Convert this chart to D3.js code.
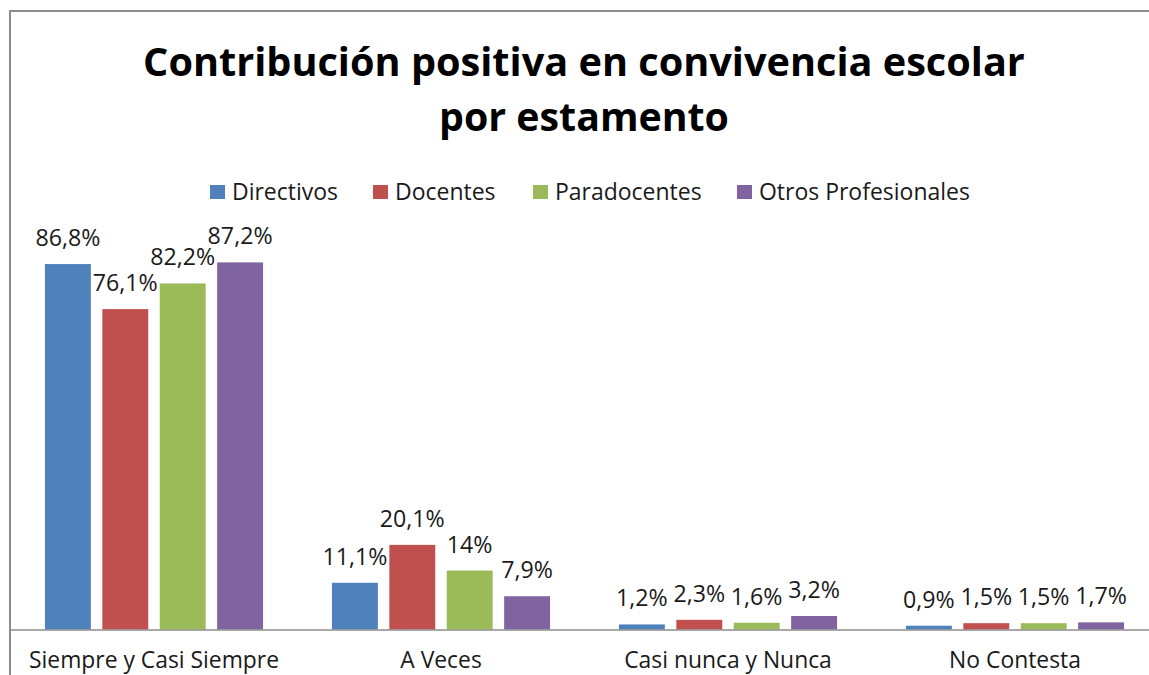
<!DOCTYPE html>
<html><head><meta charset="utf-8">
<script src="https://cdn.jsdelivr.net/npm/d3@7"></script>
<style>
html,body{margin:0;padding:0;background:#fff;}
svg{display:block;}
text{font-family:"Open Sans",sans-serif;}
</style></head>
<body>
<svg id="c" width="1149" height="675"></svg>
<script>
const titleLines = ["Contribución positiva en convivencia escolar", "por estamento"];
const categories = ["Siempre y Casi Siempre", "A Veces", "Casi nunca y Nunca", "No Contesta"];
const seriesNames = ["Directivos", "Docentes", "Paradocentes", "Otros Profesionales"];
const seriesColors = ["#4F81BD", "#C0504D", "#9BBB59", "#8064A2"];
const directivos = [86.8, 11.1, 1.2, 0.9];
const docentes = [76.1, 20.1, 2.3, 1.5];
const paradocentes = [82.2, 14, 1.6, 1.5];
const otros = [87.2, 7.9, 3.2, 1.7];
const labelsDirectivos = ["86,8%", "11,1%", "1,2%", "0,9%"];
const labelsDocentes = ["76,1%", "20,1%", "2,3%", "1,5%"];
const labelsParadocentes = ["82,2%", "14%", "1,6%", "1,5%"];
const labelsOtros = ["87,2%", "7,9%", "3,2%", "1,7%"];

const seriesValues = [directivos, docentes, paradocentes, otros];
const seriesLabels = [labelsDirectivos, labelsDocentes, labelsParadocentes, labelsOtros];

const svg = d3.select("#c");

// fit helper: font size so a sample string reaches a target width
function fitSize(sample, target, weight) {
  const t = svg.append("text").attr("font-size", 20).attr("font-weight", weight || "normal").text(sample);
  const w = t.node().getComputedTextLength();
  t.remove();
  return 20 * target / w;
}

// chart frame (extends past right/bottom edges)
svg.append("rect").attr("x", 10).attr("y", 11).attr("width", 1160).attr("height", 700)
  .attr("fill", "#fff").attr("stroke", "#8c8c8c").attr("stroke-width", 2);

const plotLeft = 10.5, plotRight = 1158.5, plotTop = 208.5, plotBottom = 629.5;
const x0 = d3.scaleBand().domain(categories).range([plotLeft, plotRight]).paddingInner(0).paddingOuter(0);
const bw = x0.bandwidth();
const x1 = d3.scaleBand().domain(seriesNames).range([bw * 0.12, bw * 0.88]).paddingInner(0.2).paddingOuter(0);
const y = d3.scaleLinear().domain([0, 100]).range([plotBottom, plotTop]);

const textColor = "#1a1a1a";
const legendSize = fitSize("Directivos", 106);
const labelSize = fitSize("86,8%", 65);
const catSize = fitSize("Siempre y Casi Siempre", 250);

// title
const title = svg.append("g");
titleLines.forEach((t, i) => {
  const el = title.append("text").attr("x", 584).attr("y", i === 0 ? 76 : 131)
    .attr("text-anchor", "middle").attr("font-weight", "bold").attr("fill", "#000")
    .attr("font-size", 40).text(t);
  const target = i === 0 ? 882 : 290;
  const w = el.node().getComputedTextLength();
  el.attr("font-size", 40 * target / w);
});

// legend
const legendX = [210, 373, 533, 737];
const leg = svg.append("g");
seriesNames.forEach((s, i) => {
  leg.append("rect").attr("x", legendX[i]).attr("y", 185).attr("width", 15).attr("height", 14).attr("fill", seriesColors[i]);
  leg.append("text").attr("x", legendX[i] + 22).attr("y", 200).attr("font-size", legendSize).attr("fill", textColor).text(s);
});

// bars
const groups = svg.append("g").selectAll("g").data(categories).join("g")
  .attr("transform", d => `translate(${x0(d)},0)`);
seriesNames.forEach((s, si) => {
  groups.append("rect")
    .attr("x", x1(s)).attr("width", x1.bandwidth())
    .attr("y", (d, ci) => y(seriesValues[si][ci]))
    .attr("height", (d, ci) => plotBottom - y(seriesValues[si][ci]))
    .attr("fill", seriesColors[si]);
});
seriesNames.forEach((s, si) => {
  groups.append("text")
    .attr("x", x1(s) + x1.bandwidth() / 2)
    .attr("y", (d, ci) => y(seriesValues[si][ci]) - 18)
    .attr("text-anchor", "middle").attr("font-size", labelSize).attr("fill", textColor)
    .text((d, ci) => seriesLabels[si][ci]);
});

// axis
const axis = d3.axisBottom(x0).tickSize(0).tickPadding(22);
const ag = svg.append("g").attr("transform", `translate(0,${plotBottom})`).call(axis);
ag.select(".domain").attr("stroke", "#8c8c8c").attr("stroke-width", 1.5);
ag.selectAll("text").attr("font-size", catSize).attr("fill", textColor)
  .style("font-family", "'Open Sans',sans-serif");
</script>
</body></html>
